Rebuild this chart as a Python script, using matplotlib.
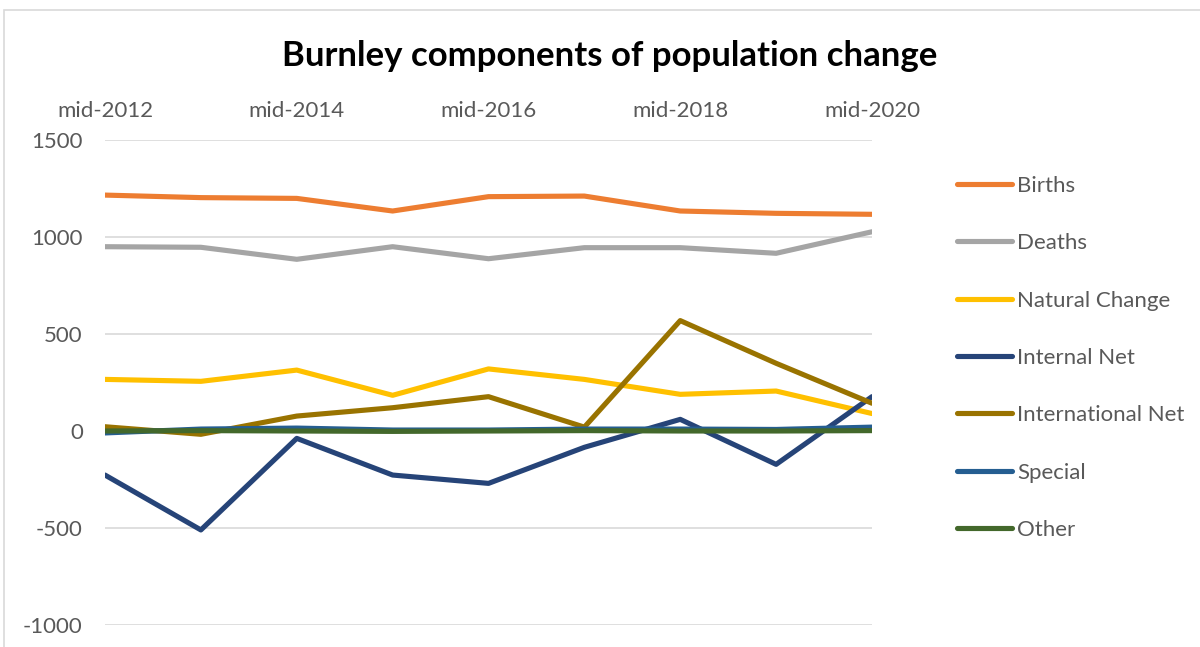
import numpy as np
import matplotlib.pyplot as plt
from matplotlib.patches import Rectangle

plt.rcParams['font.family'] = ['Lato', 'DejaVu Sans']
plt.rcParams['axes.unicode_minus'] = False

years = ['mid-2012', 'mid-2013', 'mid-2014', 'mid-2015', 'mid-2016',
         'mid-2017', 'mid-2018', 'mid-2019', 'mid-2020']

births = [1216, 1203, 1199, 1134, 1208, 1211, 1134, 1122, 1117]
deaths = [950, 947, 885, 950, 888, 945, 945, 916, 1027]
natural_change = [266, 256, 314, 184, 320, 266, 189, 206, 90]
internal_net = [-227, -510, -38, -227, -270, -84, 60, -172, 177]
international_net = [22, -17, 77, 120, 177, 20, 569, 349, 143]
special = [-10, 10, 15, 5, 5, 10, 10, 8, 20]
other = [0, 2, 0, -2, 0, 2, 0, 0, 2]

series = [
    ('Births', births, '#ED7D31'),
    ('Deaths', deaths, '#A5A5A5'),
    ('Natural Change', natural_change, '#FFC000'),
    ('Internal Net', internal_net, '#264478'),
    ('International Net', international_net, '#997300'),
    ('Special', special, '#255E91'),
    ('Other', other, '#43682B'),
]

fig = plt.figure(figsize=(12, 6.47), dpi=100)
ax = fig.add_axes([105/1200, 1 - 625/647, (872 - 105)/1200, (625 - 140)/647])

x = np.arange(len(years))
for name, vals, col in series:
    ax.plot(x, vals, color=col, lw=3.7, label=name,
            solid_joinstyle='round', solid_capstyle='round')

ax.set_xlim(0, len(years) - 1)
ax.set_ylim(-1000, 1500)
ax.set_yticks([-1000, -500, 0, 500, 1000, 1500])
ax.yaxis.grid(True, color='#D9D9D9', lw=1.2)
ax.set_axisbelow(True)
for s in ax.spines.values():
    s.set_visible(False)
ax.tick_params(axis='y', length=0, pad=16, labelsize=16, labelcolor='#595959')

ax.xaxis.tick_top()
ax.set_xticks(x[::2])
ax.set_xticklabels(years[::2])
ax.tick_params(axis='x', length=0, pad=14, labelsize=16, labelcolor='#595959')

fig.text(0.508, 1 - 56/647, 'Burnley components of population change',
         ha='center', va='center', fontsize=25, fontweight='bold', color='black')

leg = fig.legend(loc='upper left', bbox_to_anchor=(948/1200, 1 - 167/647),
                 frameon=False, fontsize=16, handlelength=2.5,
                 handletextpad=0.22, labelspacing=1.68, borderaxespad=0)
for t in leg.get_texts():
    t.set_color('#595959')

fig.add_artist(Rectangle((4/1200, -0.1), 1.5, 1 - 10/647 + 0.1,
                         transform=fig.transFigure, fill=False,
                         edgecolor='#D9D9D9', lw=1.2))

fig.savefig('out.png', dpi=100)
